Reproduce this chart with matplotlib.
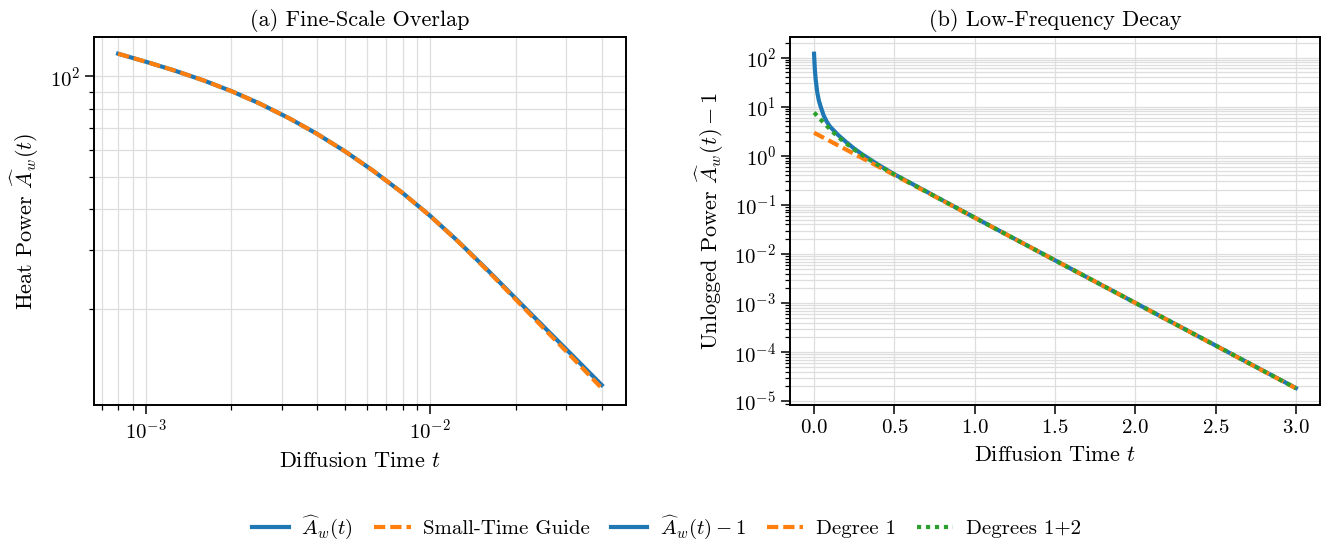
import matplotlib
matplotlib.use("Agg")
import matplotlib.pyplot as plt

plt.rcParams.update({
    "font.family": "serif",
    "font.serif": ["cmr10", "DejaVu Serif"],
    "mathtext.fontset": "cm",
    "axes.formatter.use_mathtext": True,
    "axes.unicode_minus": False,
})

# (a) heat power over short diffusion times
t_fine = [0.0008, 0.001, 0.00125, 0.0016, 0.002, 0.0025, 0.0032, 0.004, 0.005,
          0.0063, 0.008, 0.01, 0.0125, 0.016, 0.02, 0.025, 0.032, 0.04]
heat_power = [116.95, 110.66, 104.38, 97.16, 90.27, 83.04, 74.73, 67.14, 59.61,
              52.00, 44.57, 38.04, 31.96, 26.01, 21.45, 17.70, 14.32, 11.81]
small_time_guide = [116.95, 110.66, 104.38, 97.16, 90.27, 83.04, 74.73, 67.14, 59.61,
                    52.00, 44.57, 38.0, 31.9, 25.9, 21.3, 17.5, 14.1, 11.55]

# (b) power minus one over long diffusion times
t_decay = [0.0, 0.002, 0.005, 0.01, 0.02, 0.03, 0.04, 0.06, 0.08, 0.1, 0.15,
           0.2, 0.25, 0.3, 0.4, 0.5, 1.0, 1.5, 2.0, 2.5, 3.0]
unlogged_power = [120, 88, 57, 36, 19.5, 13.3, 10.3, 6.6, 4.9, 3.9, 2.65,
                  1.9, 1.40, 1.07, 0.655, 0.42, 0.0551, 0.00745, 0.00101,
                  0.000137, 1.86e-5]

t_deg1 = [0.0, 0.5, 1.0, 1.5, 2.0, 2.5, 3.0]
degree1 = [2.95, 0.406, 0.0549, 0.00744, 0.00101, 0.000136, 1.84e-5]

t_deg12 = [0.0, 0.025, 0.05, 0.075, 0.1, 0.15, 0.2, 0.25, 0.3, 0.4, 0.5,
           1.0, 1.5, 2.0, 2.5, 3.0]
degrees12 = [7.6, 6.3, 5.1, 4.2, 3.45, 2.42, 1.78, 1.34, 1.03, 0.645, 0.417,
             0.0550, 0.00744, 0.00101, 0.000137, 1.85e-5]

titles = ["(a) Fine-Scale Overlap", "(b) Low-Frequency Decay"]
xlabel = r"Diffusion Time $t$"
ylabels = [r"Heat Power $\widehat{A}_w(t)$", r"Unlogged Power $\widehat{A}_w(t) - 1$"]
labels = [r"$\widehat{A}_w(t)$", "Small-Time Guide", r"$\widehat{A}_w(t) - 1$",
          "Degree 1", "Degrees 1+2"]

blue, orange, green = "#1f77b4", "#ff7f0e", "#2ca02c"
lw = 3.0
dash = (2.7, 1.2)
dot = (1.0, 1.15)
grid_kw = dict(color="0.87", linewidth=0.9)

fig = plt.figure(figsize=(13.25, 5.4), dpi=100)
ax1 = fig.add_axes([0.0709, 0.25, 0.4015, 0.6815])
ax2 = fig.add_axes([0.5962, 0.25, 0.4000, 0.6815])

h1, = ax1.plot(t_fine, heat_power, color=blue, lw=lw, label=labels[0])
h2, = ax1.plot(t_fine, small_time_guide, color=orange, lw=lw, ls="--",
               dashes=dash, label=labels[1])
ax1.set_xscale("log")
ax1.set_yscale("log")
ax1.grid(True, which="both", **grid_kw)

h3, = ax2.plot(t_decay, unlogged_power, color=blue, lw=lw, label=labels[2])
h4, = ax2.plot(t_deg1, degree1, color=orange, lw=lw, ls="--", dashes=dash,
               label=labels[3])
h5, = ax2.plot(t_deg12, degrees12, color=green, lw=lw, ls=":", dashes=dot,
               label=labels[4])
ax2.set_yscale("log")
ax2.grid(True, which="both", axis="y", **grid_kw)
ax2.grid(True, which="major", axis="x", **grid_kw)

for ax, title, ylabel in zip((ax1, ax2), titles, ylabels):
    ax.set_axisbelow(True)
    ax.set_title(title, fontsize=16, pad=8)
    ax.set_xlabel(xlabel, fontsize=16, labelpad=6)
    ax.set_ylabel(ylabel, fontsize=16, labelpad=6)
    ax.tick_params(which="major", direction="out", length=6.5, width=1.1, labelsize=15)
    ax.tick_params(which="minor", direction="out", length=3.6, width=0.9)
    for sp in ax.spines.values():
        sp.set_linewidth(1.4)

fig.legend([h1, h2, h3, h4, h5], labels, loc="center", bbox_to_anchor=(0.503, 0.024),
           ncol=5, frameon=False, fontsize=15, handlelength=1.75,
           handletextpad=0.6, columnspacing=1.0)

fig.savefig("out.png", dpi=100)
